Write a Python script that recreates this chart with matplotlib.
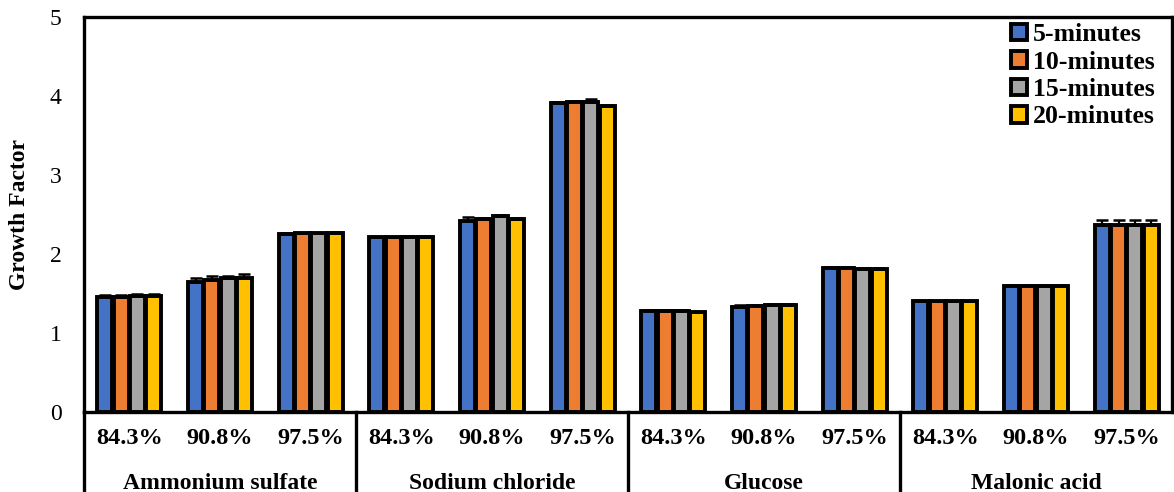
import matplotlib.pyplot as plt
import numpy as np

plt.rcParams['font.family'] = ['Liberation Serif', 'DejaVu Serif']

# --- Data ---
groups = ["Ammonium sulfate", "Sodium chloride", "Glucose", "Malonic acid"]
rh_labels = ["84.3%", "90.8%", "97.5%"]
series = ["5-minutes", "10-minutes", "15-minutes", "20-minutes"]
colors = ["#4472C4", "#ED7D31", "#A5A5A5", "#FFC000"]

gf_5 = [1.46, 1.65, 2.25, 2.21, 2.42, 3.91, 1.28, 1.33, 1.82, 1.40, 1.60, 2.37]
gf_10 = [1.46, 1.67, 2.26, 2.21, 2.44, 3.92, 1.28, 1.34, 1.82, 1.40, 1.60, 2.37]
gf_15 = [1.47, 1.69, 2.26, 2.22, 2.48, 3.93, 1.28, 1.35, 1.81, 1.40, 1.60, 2.37]
gf_20 = [1.47, 1.69, 2.27, 2.22, 2.44, 3.87, 1.26, 1.35, 1.81, 1.40, 1.60, 2.37]

err_5 = [0.02, 0.05, 0.01, 0.01, 0.05, 0.02, 0.01, 0.02, 0.02, 0.01, 0.01, 0.06]
err_10 = [0.02, 0.05, 0.01, 0.01, 0.02, 0.02, 0.01, 0.02, 0.01, 0.01, 0.01, 0.06]
err_15 = [0.02, 0.03, 0.01, 0.01, 0.02, 0.03, 0.01, 0.02, 0.01, 0.01, 0.01, 0.06]
err_20 = [0.02, 0.06, 0.01, 0.01, 0.02, 0.02, 0.01, 0.02, 0.01, 0.01, 0.01, 0.06]

values = [gf_5, gf_10, gf_15, gf_20]
errors = [err_5, err_10, err_15, err_20]

fig = plt.figure(figsize=(11.74, 4.92), dpi=100)
ax = fig.add_axes([84 / 1174, 80 / 492, 1088 / 1174, 395 / 492])

n = len(groups) * len(rh_labels)
x = np.arange(n)
width = 0.18
for i, (vals, errs) in enumerate(zip(values, errors)):
    offs = (i - 1.5) * width
    ax.bar(x + offs, vals, width * 0.92, color=colors[i], edgecolor="black",
           linewidth=2.8, label=series[i], zorder=2)
    ax.errorbar(x + offs, vals, yerr=[np.zeros(n), errs], fmt="none",
                ecolor="black", elinewidth=1.6, capsize=4, capthick=1.8, zorder=3)

ax.set_xlim(-0.5, n - 0.5)
ax.set_ylim(0, 5)
ax.set_yticks(range(6))
ax.tick_params(axis="y", length=0, pad=16, labelsize=17)
ax.set_xticks([])
for s in ax.spines.values():
    s.set_linewidth(2.4)
ax.set_ylabel("Growth Factor", fontsize=17, fontweight="bold")
ax.yaxis.set_label_coords(-0.05, 0.5)

# category labels under the axis
xtr = ax.get_xaxis_transform()
for k in range(n):
    ax.text(k, -0.068, rh_labels[k % 3], transform=xtr,
            ha="center", va="center", fontsize=17.5, fontweight="bold")
for g, name in enumerate(groups):
    ax.text(3 * g + 1, -0.18, name, transform=xtr,
            ha="center", va="center", fontsize=17, fontweight="bold")

# separators between groups, running down to the figure edge
for b in [-0.5, 2.5, 5.5, 8.5]:
    ax.plot([b, b], [0, -0.21], color="black", lw=2.4, clip_on=False,
            transform=xtr)

ax.legend(loc="upper right", frameon=False,
          prop={"weight": "bold", "size": 18.5}, handlelength=0.6,
          handleheight=0.6, handletextpad=0.25, labelspacing=0.17,
          borderaxespad=0.0, bbox_to_anchor=(0.994, 1.01))

fig.savefig("out.png", dpi=100)
